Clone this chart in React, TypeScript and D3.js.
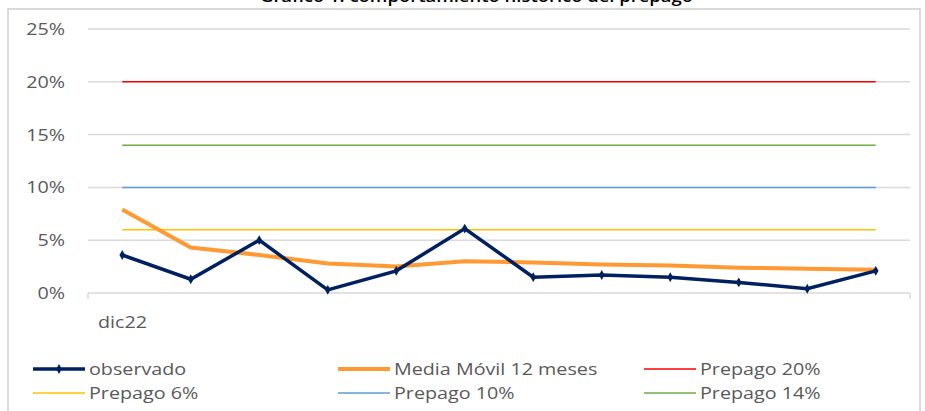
import { useEffect, useRef } from 'react';
import * as d3 from 'd3';

const categories = ['dic22', 'ene23', 'feb23', 'mar23', 'abr23', 'may23', 'jun23', 'jul23', 'ago23', 'sep23', 'oct23', 'nov23'];
const observado = [3.6, 1.3, 5.0, 0.3, 2.1, 6.1, 1.5, 1.7, 1.5, 1.0, 0.4, 2.1];
const mediaMovil = [7.9, 4.3, 3.6, 2.8, 2.5, 3.0, 2.9, 2.7, 2.6, 2.4, 2.3, 2.2];
const yTicks = [0, 5, 10, 15, 20, 25];
const prepagos = [
  { label: 'Prepago 20%', value: 20, color: '#ff0000' },
  { label: 'Prepago 6%', value: 6, color: '#ffc000' },
  { label: 'Prepago 10%', value: 10, color: '#5b9bd5' },
  { label: 'Prepago 14%', value: 14, color: '#70ad47' },
];

const W = 925;
const H = 411;
const FONT = '"Open Sans", sans-serif';
const SX = 1.16; // text is drawn a bit wide in the original

export default function App() {
  const svgRef = useRef<SVGSVGElement>(null);

  useEffect(() => {
    if (!svgRef.current) return;
    const svg = d3.select(svgRef.current);
    svg.selectAll('*').remove();

    const left = 88, right = 910, top = 29, bottom = 293;

    const x = d3.scaleBand<string>().domain(categories).range([left, right]);
    const xc = (c: string) => (x(c) ?? 0) + x.bandwidth() / 2;
    const y = d3.scaleLinear().domain([0, 25]).range([bottom, top]);

    const label = (px: number, py: number, txt: string, anchor = 'start') =>
      svg.append('text')
        .attr('transform', `translate(${px},${py}) scale(${SX},1)`)
        .attr('text-anchor', anchor)
        .attr('font-family', FONT)
        .attr('font-size', 17)
        .attr('fill', '#595959')
        .text(txt);

    // chart frame
    svg.append('rect')
      .attr('x', 8).attr('y', 9)
      .attr('width', 912).attr('height', 420)
      .attr('fill', '#fff')
      .attr('stroke', '#d9d9d9')
      .attr('stroke-width', 2);

    // title (clipped at top in the original)
    svg.append('text')
      .attr('x', 260).attr('y', 1.5)
      .attr('font-family', FONT)
      .attr('font-size', 16)
      .attr('font-weight', 600)
      .attr('textLength', 433)
      .attr('lengthAdjust', 'spacingAndGlyphs')
      .attr('fill', '#000')
      .text('Gráfico 1: comportamiento histórico del prepago');

    // gridlines & y labels
    yTicks.forEach(t => {
      svg.append('line')
        .attr('x1', left).attr('x2', right)
        .attr('y1', y(t)).attr('y2', y(t))
        .attr('stroke', '#d9d9d9')
        .attr('stroke-width', 1.5);
      label(65, y(t) + 6, `${t}%`, 'end');
    });

    // x axis edge ticks
    [left, right].forEach(px => {
      svg.append('line')
        .attr('x1', px).attr('x2', px)
        .attr('y1', bottom).attr('y2', bottom + 6)
        .attr('stroke', '#d9d9d9')
        .attr('stroke-width', 1.5);
    });

    label(98, 328, categories[0]);

    // reference lines
    const first = categories[0];
    const last = categories[categories.length - 1];
    prepagos.forEach(p => {
      svg.append('line')
        .attr('x1', xc(first)).attr('x2', xc(last))
        .attr('y1', y(p.value)).attr('y2', y(p.value))
        .attr('stroke', p.color)
        .attr('stroke-width', 1.5);
    });

    const line = d3.line<number>()
      .x((_, i) => xc(categories[i]))
      .y(d => y(d));

    svg.append('path')
      .datum(mediaMovil)
      .attr('d', line)
      .attr('fill', 'none')
      .attr('stroke', '#ff9933')
      .attr('stroke-width', 4);

    svg.append('path')
      .datum(observado)
      .attr('d', line)
      .attr('fill', 'none')
      .attr('stroke', '#002060')
      .attr('stroke-width', 3.5);

    svg.selectAll('.pt')
      .data(observado)
      .enter()
      .append('path')
      .attr('class', 'pt')
      .attr('d', d3.symbol(d3.symbolDiamond, 28)())
      .attr('transform', (d, i) => `translate(${xc(categories[i])},${y(d)})`)
      .attr('fill', '#002060');

    // legend
    const legendItems = [
      { label: 'observado', color: '#002060', w: 3.5, marker: true, lx: 33, ly: 369 },
      { label: 'Media Móvil 12 meses', color: '#ff9933', w: 4, marker: false, lx: 338, ly: 369 },
      { label: prepagos[0].label, color: prepagos[0].color, w: 1.5, marker: false, lx: 644, ly: 369 },
      { label: prepagos[1].label, color: prepagos[1].color, w: 1.5, marker: false, lx: 33, ly: 393 },
      { label: prepagos[2].label, color: prepagos[2].color, w: 1.5, marker: false, lx: 338, ly: 393 },
      { label: prepagos[3].label, color: prepagos[3].color, w: 1.5, marker: false, lx: 644, ly: 393 },
    ];
    legendItems.forEach(it => {
      svg.append('line')
        .attr('x1', it.lx).attr('x2', it.lx + 52)
        .attr('y1', it.ly).attr('y2', it.ly)
        .attr('stroke', it.color)
        .attr('stroke-width', it.w);
      if (it.marker) {
        svg.append('path')
          .attr('d', d3.symbol(d3.symbolDiamond, 28)())
          .attr('transform', `translate(${it.lx + 26},${it.ly})`)
          .attr('fill', it.color);
      }
      label(it.lx + 56, it.ly + 6, it.label);
    });
  }, []);

  return (
    <svg
      ref={svgRef}
      width={W}
      height={H}
      style={{ position: 'absolute', left: 0, top: 0, background: '#fff' }}
    />
  );
}
